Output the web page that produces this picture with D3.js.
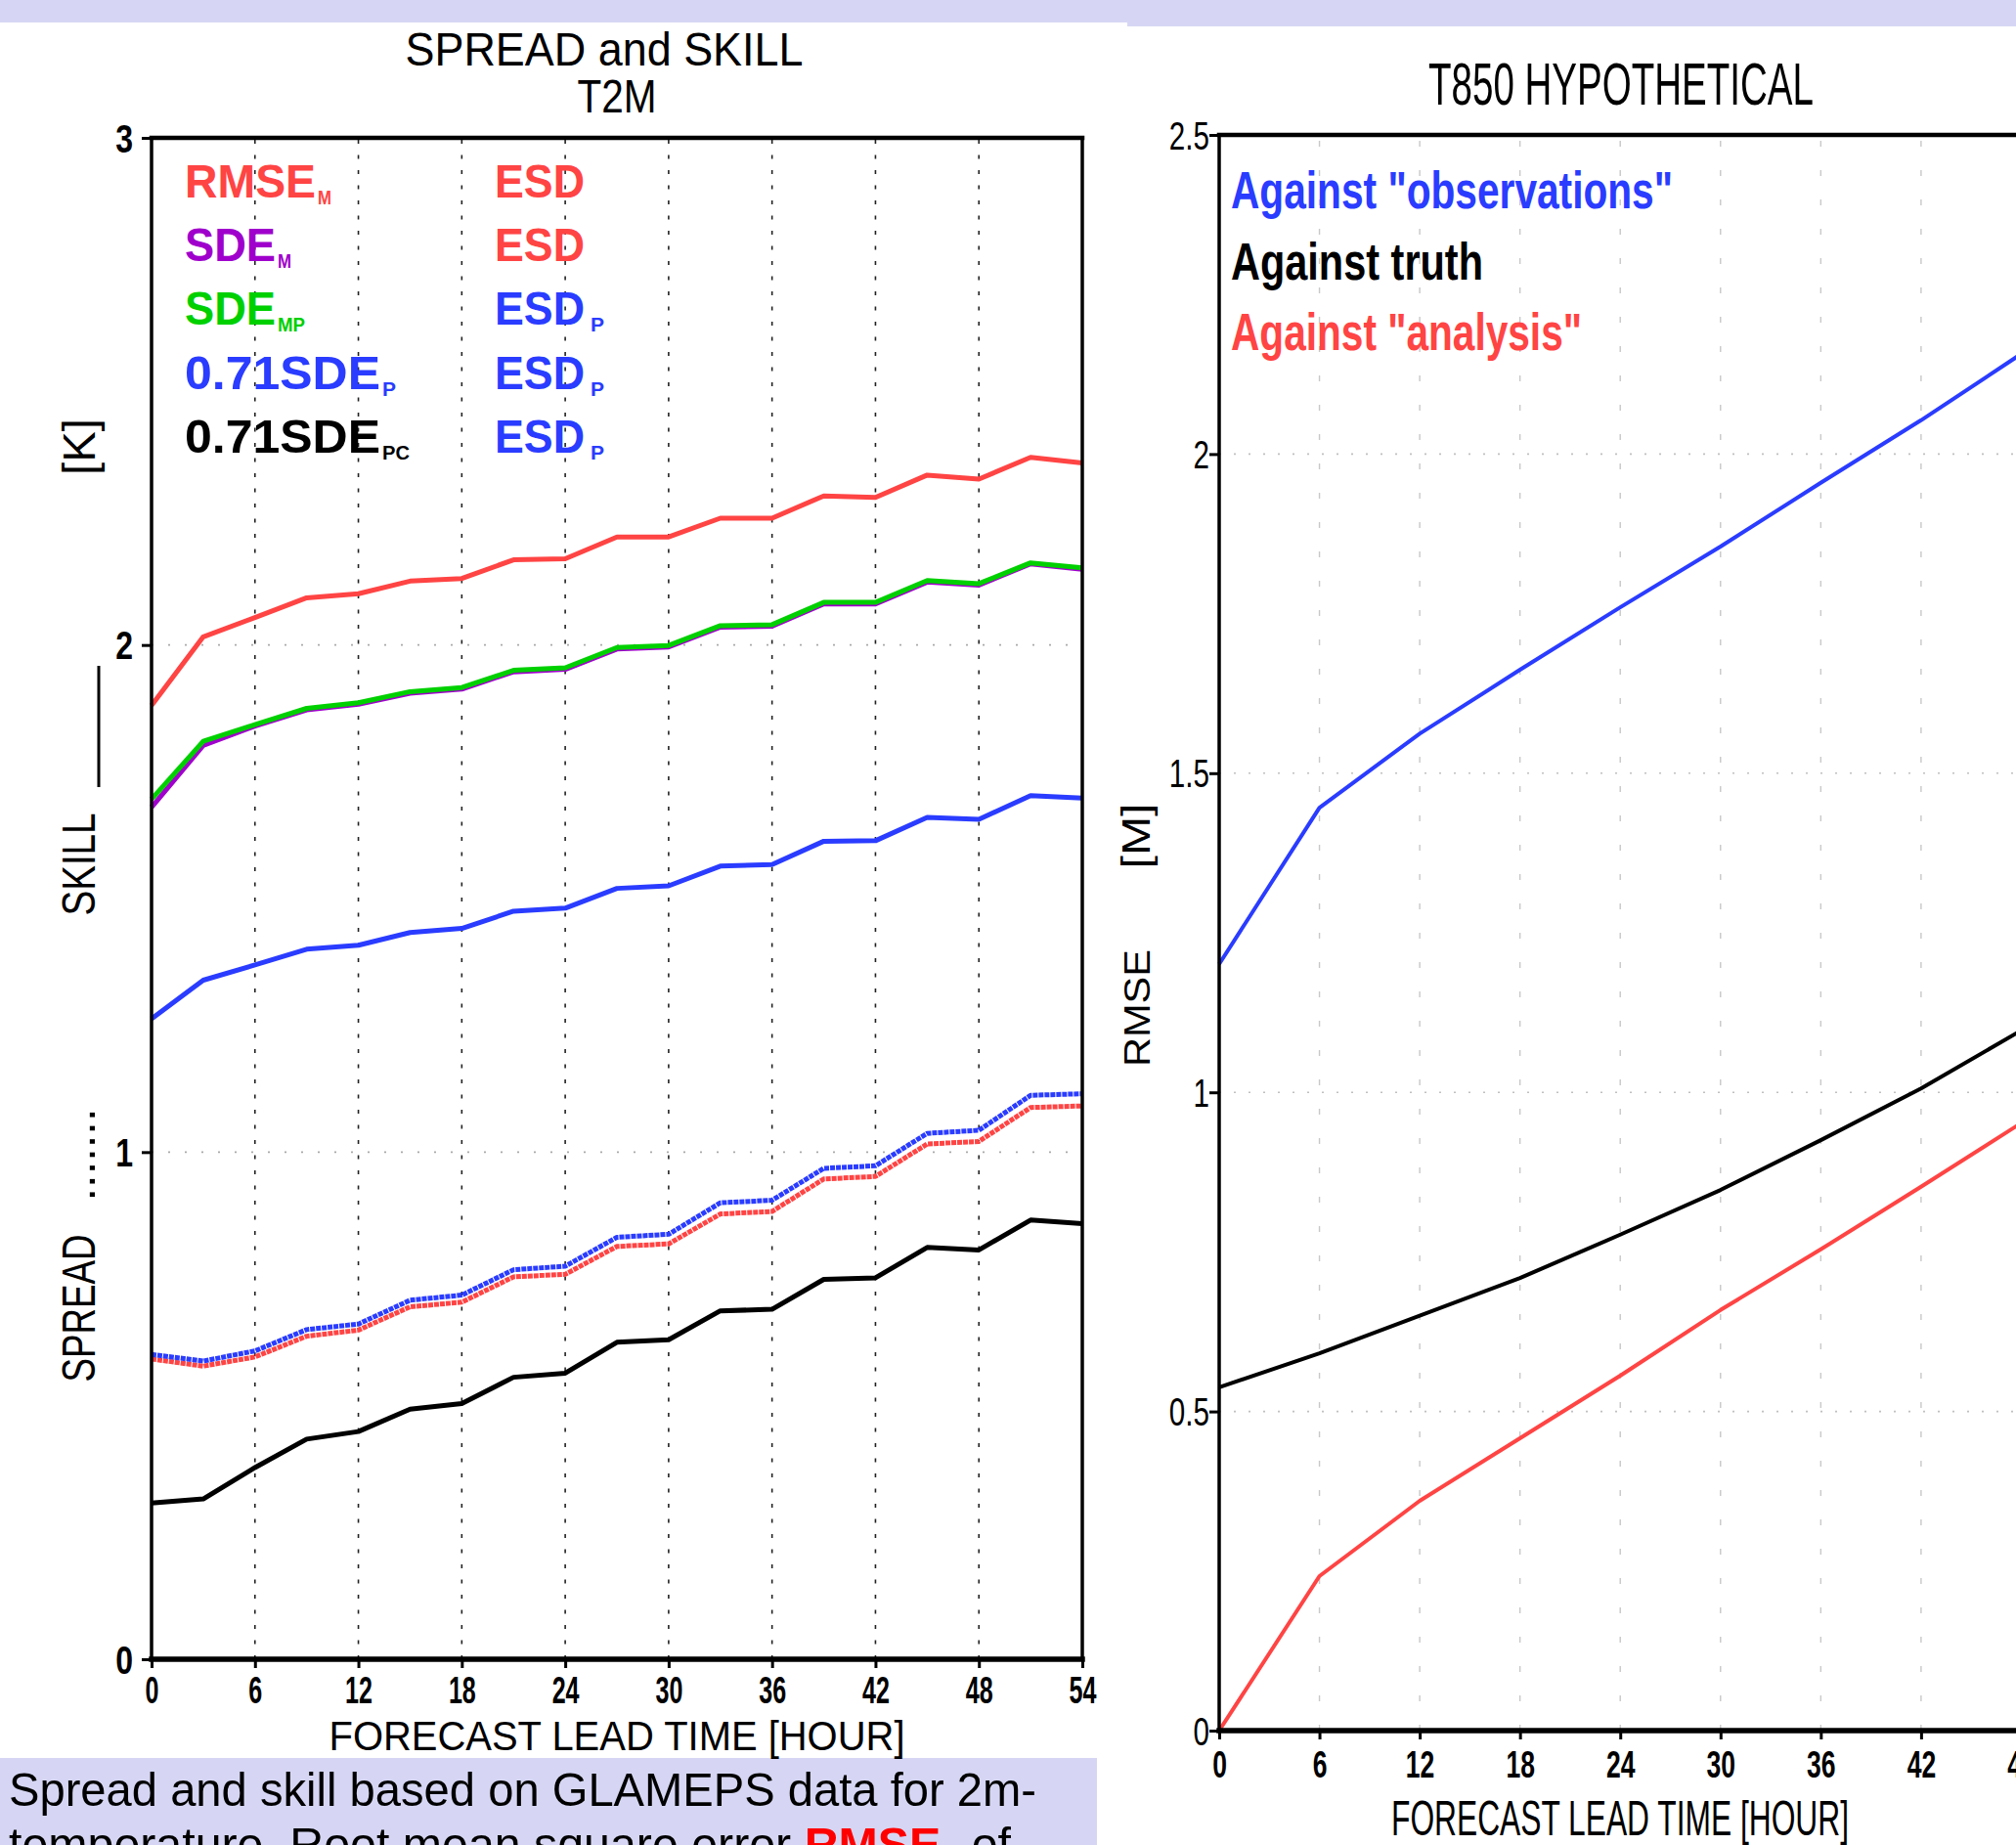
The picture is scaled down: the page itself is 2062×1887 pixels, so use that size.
<!DOCTYPE html>
<html>
<head>
<meta charset="utf-8">
<script src="https://cdn.jsdelivr.net/npm/d3@7"></script>
<style>
    body { margin: 0; background: #fff; overflow: hidden; }
    svg { display: block; }
    text { font-family: "Liberation Sans", Arial, sans-serif; }
</style>
</head>
<body>
<svg id="chart" width="2062" height="1887"></svg>
<script>
// ---- data: left panel (spread and skill, T2M) ----
var hours = [0, 3, 6, 9, 12, 15, 18, 21, 24, 27, 30, 33, 36, 39, 42, 45, 48, 51, 54];
var rmseM   = [1.881, 2.016, 2.054, 2.093, 2.101, 2.126, 2.131, 2.168, 2.170, 2.213, 2.213, 2.250, 2.250, 2.294, 2.291, 2.335, 2.327, 2.370, 2.359];
var sdeM    = [1.680, 1.802, 1.840, 1.872, 1.883, 1.905, 1.913, 1.947, 1.952, 1.992, 1.996, 2.035, 2.037, 2.081, 2.081, 2.124, 2.118, 2.160, 2.149];
var sdeMP   = [1.696, 1.810, 1.843, 1.875, 1.886, 1.908, 1.916, 1.950, 1.955, 1.995, 1.999, 2.038, 2.040, 2.084, 2.084, 2.127, 2.121, 2.162, 2.152];
var sdeP    = [1.263, 1.339, 1.369, 1.400, 1.408, 1.433, 1.441, 1.475, 1.481, 1.520, 1.525, 1.564, 1.567, 1.613, 1.614, 1.660, 1.656, 1.703, 1.698];
var sdePC   = [0.308, 0.316, 0.378, 0.434, 0.449, 0.493, 0.504, 0.556, 0.564, 0.625, 0.630, 0.687, 0.690, 0.749, 0.752, 0.812, 0.807, 0.866, 0.859];
var esd     = [0.592, 0.578, 0.596, 0.637, 0.649, 0.695, 0.704, 0.754, 0.759, 0.814, 0.819, 0.878, 0.883, 0.947, 0.952, 1.016, 1.021, 1.088, 1.091];
var esdP    = [0.601, 0.588, 0.608, 0.650, 0.661, 0.708, 0.718, 0.768, 0.775, 0.832, 0.838, 0.900, 0.905, 0.968, 0.973, 1.037, 1.043, 1.112, 1.115];
var xTicks  = [0, 6, 12, 18, 24, 30, 36, 42, 48, 54];
var yTicksL = [0, 1, 2, 3];

// ---- data: right panel (T850 hypothetical) ----
var hoursT850  = [0, 6, 12, 18, 24, 30, 36, 42, 48];
var obsRmse    = [1.201, 1.446, 1.562, 1.662, 1.760, 1.855, 1.955, 2.053, 2.157];
var truthRmse  = [0.538, 0.591, 0.650, 0.709, 0.777, 0.847, 0.925, 1.006, 1.097];
var anaRmse    = [0.000, 0.242, 0.360, 0.458, 0.556, 0.659, 0.754, 0.852, 0.952];
var yTicksR    = [0, 0.5, 1, 1.5, 2, 2.5];

var RED = "#ff4444", GREEN = "#00d000", PURPLE = "#a000cc", BLUE = "#2a3cff", BLACK = "#000",
    LAV = "#d6d6f4";

var svg = d3.select("#chart");

// lavender page bands
svg.append("rect").attr("x", 0).attr("y", 0).attr("width", 1153).attr("height", 23).attr("fill", LAV);
svg.append("rect").attr("x", 1153).attr("y", 0).attr("width", 909).attr("height", 27).attr("fill", LAV);
svg.append("rect").attr("x", 0).attr("y", 1798).attr("width", 1122).attr("height", 89).attr("fill", LAV);

function rotLabel(txt, x, y, size, len) {
    svg.append("text")
        .attr("transform", "translate(" + x + "," + y + ") rotate(-90)")
        .attr("text-anchor", "middle")
        .attr("font-size", size)
        .attr("textLength", len).attr("lengthAdjust", "spacingAndGlyphs")
        .text(txt);
}

function plainText(txt, x, y, size, len, opts) {
    opts = opts || {};
    return svg.append("text")
        .attr("x", x).attr("y", y)
        .attr("text-anchor", opts.anchor || "start")
        .attr("font-size", size)
        .attr("font-weight", opts.bold ? "bold" : "normal")
        .attr("fill", opts.color || BLACK)
        .attr("textLength", len).attr("lengthAdjust", "spacingAndGlyphs")
        .text(txt);
}

function gridAndFrame(x, y, opt) {
    var g = svg.append("g");
    var y0 = y.domain()[0], y1 = y.domain()[1];
    xTicks.slice(1, -1).forEach(function(t) {
        g.append("line").attr("x1", x(t)).attr("x2", x(t)).attr("y1", y(y0)).attr("y2", y(y1))
            .attr("stroke", opt.vColor).attr("stroke-width", opt.vWidth).attr("stroke-dasharray", opt.vDash);
    });
    opt.hLevels.forEach(function(v) {
        g.append("line").attr("x1", x(0)).attr("x2", x(54)).attr("y1", y(v)).attr("y2", y(v))
            .attr("stroke", opt.hColor).attr("stroke-width", 1.6).attr("stroke-dasharray", opt.hDash);
    });
}

function frame(x, y) {
    var g = svg.append("g").attr("stroke", BLACK).attr("stroke-linecap", "square");
    var y0 = y.domain()[0], y1 = y.domain()[1];
    g.append("line").attr("x1", x(0)).attr("x2", x(54)).attr("y1", y(y1)).attr("y2", y(y1)).attr("stroke-width", 4.5);
    g.append("line").attr("x1", x(0)).attr("x2", x(54)).attr("y1", y(y0)).attr("y2", y(y0)).attr("stroke-width", 5.5);
    g.append("line").attr("x1", x(0)).attr("x2", x(0)).attr("y1", y(y0)).attr("y2", y(y1)).attr("stroke-width", 3.5);
    g.append("line").attr("x1", x(54)).attr("x2", x(54)).attr("y1", y(y0)).attr("y2", y(y1)).attr("stroke-width", 3.5);
}

function drawSeries(x, y, xs, vals, color, width, dash) {
    var line = d3.line().x(function(d, i) { return x(xs[i]); }).y(function(d) { return y(d); });
    svg.append("path").datum(vals)
        .attr("d", line)
        .attr("fill", "none")
        .attr("stroke", color)
        .attr("stroke-width", width)
        .attr("stroke-linejoin", "round")
        .attr("stroke-dasharray", dash || null);
}

function styleAxis(g, size, bold, sx, tx, ty, anchor) {
    g.select(".domain").remove();
    g.selectAll(".tick line").attr("stroke", BLACK).attr("stroke-width", 3);
    g.selectAll(".tick text")
        .attr("fill", BLACK)
        .attr("font-family", "Liberation Sans, Arial, sans-serif")
        .attr("font-size", size)
        .attr("font-weight", bold ? "bold" : "normal")
        .attr("text-anchor", anchor)
        .attr("transform", "scale(" + sx + ",1)")
        .attr("x", tx / sx)
        .attr("y", ty)
        .attr("dy", null);
}

// =================== LEFT PANEL ===================
var xL = d3.scaleLinear().domain([0, 54]).range([155, 1107]);
var yL = d3.scaleLinear().domain([0, 3]).range([1697, 141]);

gridAndFrame(xL, yL, {
    vColor: "#222", vWidth: 1.6, vDash: "4,11.5",
    hColor: "#aaa", hDash: "2,15", hLevels: [1, 2]
});

drawSeries(xL, yL, hours, esd,   RED,  5, "5,1");
drawSeries(xL, yL, hours, esdP,  BLUE, 5, "5,1");
drawSeries(xL, yL, hours, sdePC, BLACK, 5);
drawSeries(xL, yL, hours, sdeP,  BLUE, 5);
drawSeries(xL, yL, hours, sdeM,  PURPLE, 5);
drawSeries(xL, yL, hours, sdeMP, GREEN, 5);
drawSeries(xL, yL, hours, rmseM, RED, 5);

frame(xL, yL);

var axL = svg.append("g").attr("transform", "translate(0," + yL(0) + ")")
    .call(d3.axisBottom(xL).tickValues(xTicks).tickSize(9).tickSizeOuter(0));
styleAxis(axL, 38, true, 0.66, 0, 45, "middle");

var ayL = svg.append("g").attr("transform", "translate(" + xL(0) + ",0)")
    .call(d3.axisLeft(yL).tickValues(yTicksL).tickSize(10).tickSizeOuter(0).tickFormat(d3.format("d")));
styleAxis(ayL, 40, true, 0.8, -19, 14, "end");

// titles
plainText("SPREAD  and  SKILL", 618, 67, 48, 407, { anchor: "middle" });
plainText("T2M", 631, 115, 48, 81, { anchor: "middle" });
plainText("FORECAST  LEAD  TIME  [HOUR]", 631, 1790, 42, 589, { anchor: "middle" });

// rotated y labels
rotLabel("[K]", 97, 457, 46, 58);
rotLabel("SKILL", 97, 884, 48, 105);
svg.append("line").attr("x1", 101).attr("x2", 101).attr("y1", 681).attr("y2", 805)
    .attr("stroke", BLACK).attr("stroke-width", 3);
rotLabel(".......", 97, 1181, 48, 95);
rotLabel("SPREAD", 97, 1338, 48, 151);

// legend (left)
var legRows = [
    { main: "RMSE",    sub: "M",  color: RED,    w: 134, esd: "ESD", esub: "",  ecolor: RED },
    { main: "SDE",     sub: "M",  color: PURPLE, w: 93,  esd: "ESD", esub: "",  ecolor: RED },
    { main: "SDE",     sub: "MP", color: GREEN,  w: 93,  esd: "ESD", esub: "P", ecolor: BLUE },
    { main: "0.71SDE", sub: "P",  color: BLUE,   w: 200, esd: "ESD", esub: "P", ecolor: BLUE },
    { main: "0.71SDE", sub: "PC", color: BLACK,  w: 200, esd: "ESD", esub: "P", ecolor: BLUE }
];
legRows.forEach(function(r, i) {
    var base = 202 + i * 65.2;
    plainText(r.main, 189, base, 48, r.w, { bold: true, color: r.color });
    svg.append("text").attr("x", 189 + r.w + 2).attr("y", base + 7)
        .attr("font-size", 21).attr("font-weight", "bold").attr("fill", r.color)
        .attr("textLength", r.sub.length * 14).attr("lengthAdjust", "spacingAndGlyphs")
        .text(r.sub);
    plainText(r.esd, 506, base, 48, 92, { bold: true, color: r.ecolor });
    if (r.esub) {
        svg.append("text").attr("x", 604).attr("y", base + 7)
            .attr("font-size", 21).attr("font-weight", "bold").attr("fill", r.ecolor).text(r.esub);
    }
});

// =================== RIGHT PANEL ===================
var xR = d3.scaleLinear().domain([0, 54]).range([1247, 2170]);
var yR = d3.scaleLinear().domain([0, 2.5]).range([1770, 138]);

gridAndFrame(xR, yR, {
    vColor: "#c8c8c8", vWidth: 1.4, vDash: "6,24",
    hColor: "#c0c0c0", hDash: "2,13", hLevels: [0.5, 1, 1.5, 2]
});

drawSeries(xR, yR, hoursT850, anaRmse,   RED,   4);
drawSeries(xR, yR, hoursT850, truthRmse, BLACK, 4);
drawSeries(xR, yR, hoursT850, obsRmse,   BLUE,  4);

frame(xR, yR);

var axR = svg.append("g").attr("transform", "translate(0," + yR(0) + ")")
    .call(d3.axisBottom(xR).tickValues(xTicks).tickSize(9).tickSizeOuter(0));
styleAxis(axR, 39, true, 0.68, 0, 48, "middle");

var ayR = svg.append("g").attr("transform", "translate(" + xR(0) + ",0)")
    .call(d3.axisLeft(yR).tickValues(yTicksR).tickSize(10).tickSizeOuter(0).tickFormat(d3.format("~g")));
styleAxis(ayR, 40, false, 0.74, -10, 14, "end");

plainText("T850  HYPOTHETICAL", 1658, 107, 62, 394, { anchor: "middle" });
plainText("FORECAST  LEAD  TIME  [HOUR]", 1657, 1877, 50, 468, { anchor: "middle" });

rotLabel("[M]", 1176, 855, 40, 67);
rotLabel("RMSE", 1176, 1031, 37, 120);

// legend (right)
var legR = [
    { txt: "Against  \"observations\"", color: BLUE,  w: 452 },
    { txt: "Against  truth",            color: BLACK, w: 258 },
    { txt: "Against  \"analysis\"",     color: RED,   w: 359 }
];
legR.forEach(function(r, i) {
    plainText(r.txt, 1259, 213 + i * 72.5, 54, r.w, { bold: true, color: r.color });
});

// =================== CAPTION ===================
plainText("Spread and skill based on GLAMEPS data for 2m-", 9, 1847, 49, 1051);
var cap2 = svg.append("text").attr("x", 9).attr("y", 1903).attr("font-size", 49)
    .attr("textLength", 1025).attr("lengthAdjust", "spacingAndGlyphs");
cap2.append("tspan").text("temperature. Root mean square error ");
cap2.append("tspan").attr("font-weight", "bold").attr("fill", "#ff0000").text("RMSE");
cap2.append("tspan").attr("font-size", 22).attr("font-weight", "bold").attr("fill", "#ff0000").text("M");
cap2.append("tspan").text(" of");
</script>
</body>
</html>
